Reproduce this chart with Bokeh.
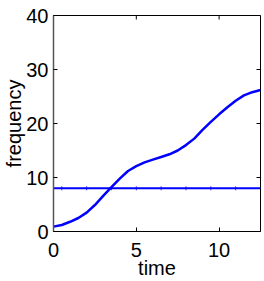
import math
from bokeh.plotting import figure
from bokeh.models import Range1d, FixedTicker
from bokeh.embed import file_html
from bokeh.resources import INLINE

# data
time = [0, 0.5, 1, 1.5, 2, 2.5, 3, 3.5, 4, 4.5, 5, 5.5, 6, 6.5, 7, 7.5, 8,
        8.5, 9, 9.5, 10, 10.5, 11, 11.5, 12, 12.5]
frequency = [0.9, 1.2, 1.8, 2.5, 3.5, 4.9, 6.6, 8.2, 9.8, 11.2, 12.1, 12.8,
             13.3, 13.8, 14.3, 15.0, 16.0, 17.2, 18.8, 20.3, 21.7, 23.0, 24.2,
             25.2, 25.8, 26.2]
level_time = [0, 12.5]
level_value = [8, 8]
marker_time = [0.5, 2, 3.5, 5, 6.5, 8, 9.5, 11]
marker_value = [8, 8, 8, 8, 8, 8, 8, 8]
x_ticks = [0, 5, 10]
y_ticks = [0, 10, 20, 30, 40]
x_max = 12.5
y_max = 40

FONT = "Liberation Sans"
FS = "20px"

p = figure(width=264, height=281, output_backend="svg",
           toolbar_location=None, x_range=Range1d(0, x_max), y_range=Range1d(0, y_max),
           min_border_left=53, min_border_right=4, min_border_top=15,
           min_border_bottom=47, x_axis_label="time", y_axis_label="frequency")
p.background_fill_color = "white"
p.border_fill_color = "white"
p.grid.visible = False
p.outline_line_color = "black"
p.outline_line_width = 1

for ax in (p.xaxis[0], p.yaxis[0]):
    ax.major_tick_in = 4
    ax.major_tick_out = 0
    ax.minor_tick_in = 0
    ax.minor_tick_out = 0
    ax.axis_line_color = "black"
    ax.major_tick_line_color = "black"
    ax.major_label_text_font = FONT
    ax.major_label_text_font_size = FS
    ax.major_label_text_color = "black"
    ax.axis_label_text_font = FONT
    ax.axis_label_text_font_size = FS
    ax.axis_label_text_font_style = "normal"
    ax.axis_label_text_color = "black"

p.xaxis.ticker = FixedTicker(ticks=x_ticks)
p.yaxis.ticker = FixedTicker(ticks=y_ticks)
p.xaxis.major_label_standoff = 11
p.xaxis.axis_label_standoff = -3
p.yaxis.major_label_standoff = 5
p.yaxis.axis_label_standoff = -2
p.yaxis[0].axis_line_color = "#555555"
p.yaxis[0].axis_line_width = 1.5

# inward ticks on top and right edges (half of each dash is clipped by the frame)
p.scatter(x_ticks, [y_max] * len(x_ticks), marker="dash", angle=math.pi / 2,
          size=8, line_color="black", line_width=1)
p.scatter([x_max] * len(y_ticks), y_ticks, marker="dash", size=8,
          line_color="black", line_width=1)

p.line(level_time, level_value, line_color="#0000ff", line_width=2)
p.scatter(marker_time, marker_value, marker="dash", angle=math.pi / 2, size=4,
          line_color="#0000ff", line_width=1, line_alpha=0.8)
p.line(time, frequency, line_color="#0000ff", line_width=2.5, line_join="round")

open("out.html", "w").write(file_html(p, INLINE))
